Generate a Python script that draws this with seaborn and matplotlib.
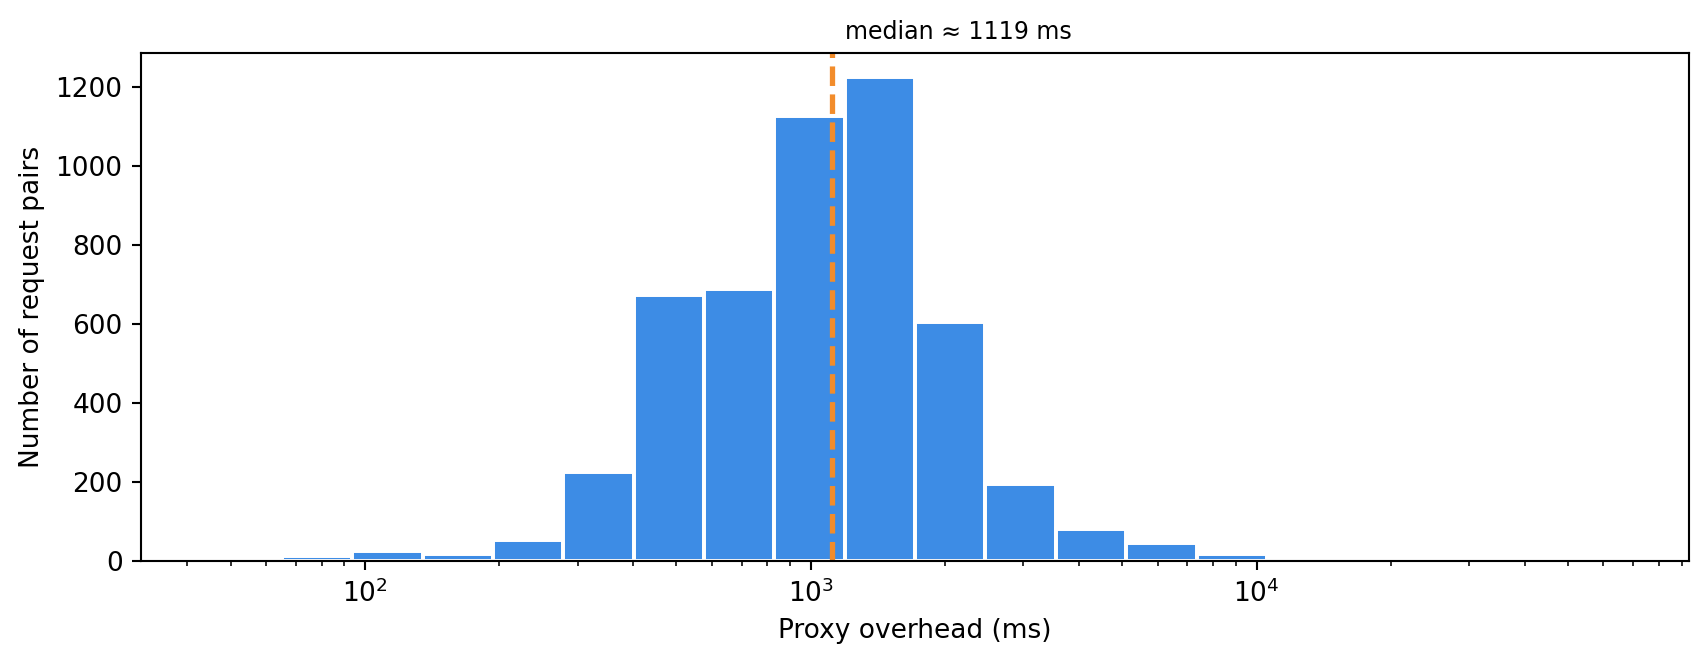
import numpy as np
import pandas as pd
import matplotlib
matplotlib.use("Agg")
import matplotlib.pyplot as plt
import seaborn as sns

# ---- data ----
bin_lo_ms = 45.3          # left edge of first bin (ms)
bin_hi_ms = 64900.0       # right edge of last bin (ms)
n_bins = 20
counts = [4, 11, 25, 18, 52, 224, 672, 689, 1126, 1225,
          604, 194, 79, 45, 18, 4, 1, 1, 0, 1]
median_ms = 1119

bar_color = "#3D8CE5"
median_color = "#F28C2B"

log_edges = np.linspace(np.log10(bin_lo_ms), np.log10(bin_hi_ms), n_bins + 1)
centers = 10 ** ((log_edges[:-1] + log_edges[1:]) / 2)
df = pd.DataFrame({"overhead": centers, "n": counts})

DPI = 190
fig = plt.figure(figsize=(1708 / DPI, 664 / DPI), dpi=DPI)
ax = fig.add_subplot(111)
fig.subplots_adjust(left=0.0826, right=0.9889, bottom=0.1556, top=0.9206)

sns.histplot(data=df, x="overhead", weights="n", bins=list(log_edges),
             log_scale=True, color=bar_color, alpha=1, edgecolor="white",
             linewidth=1.5, ax=ax)

ax.axvline(median_ms, color=median_color, linestyle="--", linewidth=2)
ax.annotate(f"median \u2248 {median_ms} ms", xy=(median_ms, 1.0),
            xycoords=ax.get_xaxis_transform(), xytext=(4.8, 5.1),
            textcoords="offset points", ha="left", va="baseline", fontsize=9)

ax.set_xlabel("Proxy overhead (ms)")
ax.set_ylabel("Number of request pairs")

fig.savefig("out.png", dpi=DPI)
